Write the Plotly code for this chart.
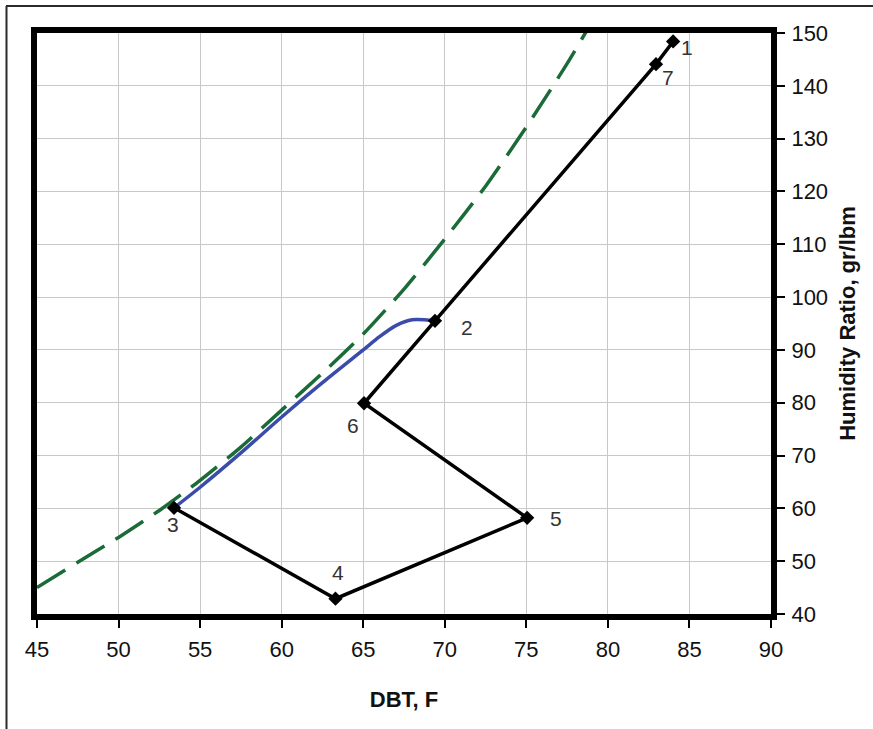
import plotly.graph_objects as go

# Process points (DBT F, humidity ratio gr/lbm)
pt_labels = ["1", "7", "2", "6", "5", "4", "3"]
pt_dbt = [84.0, 82.95, 69.4, 65.05, 75.05, 63.3, 53.4]
pt_w = [148.4, 144.1, 95.5, 79.9, 58.2, 42.9, 60.1]
# label offsets in px (dx right, dy down)
lab_dx = [14, 12, 32, -11, 29, 3, -1]
lab_dy = [6, 13, 7, 22, 1, -26, 17]

# Coil process curve (blue)
coil_dbt = [53.4, 55.0, 57.5, 60.0, 62.5, 65.0, 66.0, 67.0, 68.0, 69.4]
coil_w = [60.1, 64.0, 70.5, 77.3, 83.8, 90.0, 92.5, 94.6, 95.7, 95.5]

# Saturation curve (green dashed)
sat_dbt = [45, 47.5, 50, 52.5, 55, 57.5, 60, 62.5, 65, 67.5, 70, 72.5, 75, 77.5, 79]
sat_w = [45.0, 49.8, 54.5, 59.6, 65.3, 71.6, 78.6, 85.6, 93.0, 101.5, 111.0, 121.0, 132.2, 144.2, 152.0]

x_ticks = [45, 50, 55, 60, 65, 70, 75, 80, 85, 90]
y_ticks = [40, 50, 60, 70, 80, 90, 100, 110, 120, 130, 140, 150]

fig = go.Figure()
fig.add_trace(go.Scatter(x=sat_dbt, y=sat_w, mode="lines",
                         line=dict(color="#1b6b38", width=3.5, dash="33px,13px",
                                   shape="spline", smoothing=0.6),
                         showlegend=False))
fig.add_trace(go.Scatter(x=coil_dbt, y=coil_w, mode="lines",
                         line=dict(color="#3b4ca8", width=3.5, shape="spline", smoothing=0.8),
                         showlegend=False))
fig.add_trace(go.Scatter(x=pt_dbt, y=pt_w, mode="lines+markers",
                         line=dict(color="black", width=3.5),
                         marker=dict(symbol="diamond", size=11, color="black"),
                         showlegend=False, cliponaxis=False))

for lab, x, y, dx, dy in zip(pt_labels, pt_dbt, pt_w, lab_dx, lab_dy):
    fig.add_annotation(x=x, y=y, text=lab, showarrow=False, xshift=dx, yshift=-dy,
                       font=dict(family="Liberation Sans, Arial", size=21, color="#333333"))

W, H = 873, 729
L, R, T, B = 37, 102, 33, 115
pw, ph = W - L - R, H - T - B

def px_x(p):
    return (p - L) / pw

def px_y(p):
    return (H - B - p) / ph

# outer frame (top & left edges)
fig.add_shape(type="line", xref="paper", yref="paper",
              x0=px_x(6), x1=px_x(880), y0=px_y(6), y1=px_y(6),
              line=dict(color="#2b2b2b", width=2))
fig.add_shape(type="line", xref="paper", yref="paper",
              x0=px_x(6.5), x1=px_x(6.5), y0=px_y(6), y1=px_y(740),
              line=dict(color="#2b2b2b", width=2))

fig.update_layout(
    width=W, height=H,
    margin=dict(l=L, r=R, t=T, b=B, autoexpand=False),
    paper_bgcolor="white", plot_bgcolor="white",
    font=dict(family="Liberation Sans, Arial", color="#111111"),
    showlegend=False,
)
fig.update_xaxes(range=[45, 90], tickvals=x_ticks, ticks="outside", ticklen=8,
                 tickcolor="black", tickwidth=1.5,
                 showgrid=True, gridcolor="#c8c8c8", gridwidth=1,
                 showline=True, linecolor="black", linewidth=6, mirror=True,
                 zeroline=False, tickfont=dict(size=22), ticklabelstandoff=3,
                 title=dict(text="<b>DBT, F</b>", font=dict(size=22), standoff=32))
fig.update_yaxes(range=[40, 150], tickvals=y_ticks, side="right", ticks="outside", ticklen=8,
                 tickcolor="black", tickwidth=1.5,
                 showgrid=True, gridcolor="#c8c8c8", gridwidth=1,
                 showline=True, linecolor="black", linewidth=6, mirror=True,
                 zeroline=False, tickfont=dict(size=22), ticklabelstandoff=2,
                 title=dict(text="<b>Humidity Ratio, gr/lbm</b>", font=dict(size=22), standoff=14))

fig.write_html("out.html")
